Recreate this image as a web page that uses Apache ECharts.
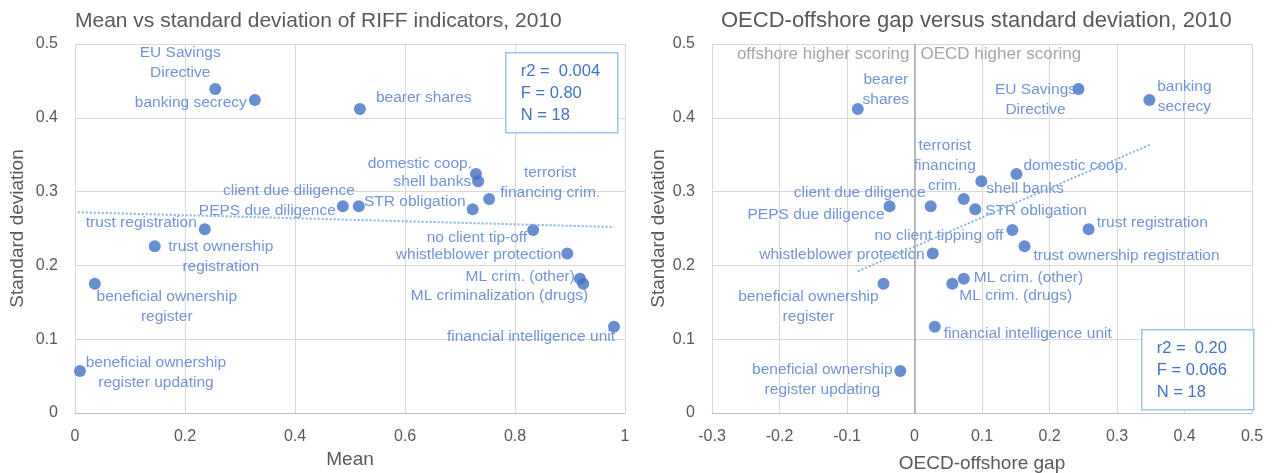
<!DOCTYPE html>
<html>
<head>
<meta charset="utf-8">
<script src="https://cdn.jsdelivr.net/npm/echarts@6/dist/echarts.min.js"></script>
<style>
  html, body { margin: 0; padding: 0; background: #fff; }
  #chart { width: 1279px; height: 473px; }
</style>
</head>
<body>
<div id="chart"></div>
<script>
// indicator values (same order everywhere)
var indicators = ['EU Savings Directive', 'banking secrecy', 'bearer shares', 'domestic coop.', 'shell banks',
  'terrorist financing crim.', 'STR obligation', 'client due diligence', 'PEPS due diligence', 'trust registration',
  'no client tip-off', 'trust ownership registration', 'whistleblower protection', 'ML crim. (other)',
  'ML criminalization (drugs)', 'beneficial ownership register', 'financial intelligence unit',
  'beneficial ownership register updating'];
var meanValues = [0.255, 0.327, 0.518, 0.729, 0.733, 0.753, 0.723, 0.516, 0.487, 0.236, 0.833, 0.145, 0.895, 0.918, 0.924, 0.036, 0.980, 0.009];
var sdValues = [0.439, 0.424, 0.412, 0.324, 0.314, 0.290, 0.276, 0.280, 0.280, 0.249, 0.248, 0.226, 0.216, 0.182, 0.175, 0.175, 0.117, 0.057];
var gapValues = [0.243, 0.348, -0.084, 0.151, 0.099, 0.073, 0.090, 0.024, -0.037, 0.258, 0.145, 0.163, 0.027, 0.073, 0.056, -0.046, 0.030, -0.021];

var leftLabels = ['EU Savings\nDirective', 'banking secrecy', 'bearer shares', 'domestic coop.', 'shell banks',
  'terrorist\nfinancing crim.', 'STR obligation', 'client due diligence', 'PEPS due diligence', 'trust registration',
  'no client tip-off', 'trust ownership\nregistration', 'whistleblower protection', 'ML crim. (other)',
  'ML criminalization (drugs)', 'beneficial ownership\nregister', 'financial intelligence unit',
  'beneficial ownership\nregister updating'];
var rightLabels = ['EU Savings\nDirective', 'banking\nsecrecy', 'bearer\nshares', 'domestic coop.', 'shell banks',
  'terrorist\nfinancing\ncrim.', 'STR obligation', 'client due diligence', 'PEPS due diligence', 'trust registration',
  'no client tipping off', 'trust ownership registration', 'whistleblower protection', 'ML crim. (other)',
  'ML crim. (drugs)', 'beneficial ownership\nregister', 'financial intelligence unit',
  'beneficial ownership\nregister updating'];

// dotted trend lines, end points
var trendLeft = [[0.005, 0.272], [0.980, 0.252]];
var trendRight = [[-0.084, 0.192], [0.350, 0.364]];

var statsLeft = ['r2 =  0.004', 'F = 0.80', 'N = 18'];
var statsRight = ['r2 =  0.20', 'F = 0.066', 'N = 18'];

// label placement: [dx, dy, align] from point centre
var leftPlace = [
  [-35, -26, 'center'], [-8, 3, 'right'], [16, -11, 'left'], [-4, -10, 'right'], [-7, 0, 'right'],
  [61, -16, 'center'], [-7, -8, 'right'], [-4, -16, 'right'], [-7, 4, 'right'], [-8, -7, 'right'],
  [-6, 8, 'right'], [66, 11, 'center'], [-6, 1, 'right'], [-5, -2, 'right'], [5, 12, 'right'],
  [72, 23, 'center'], [1, 10, 'right'], [76, 2, 'center']
];
var rightPlace = [
  [-43, 11, 'center'], [35, -3, 'center'], [28, -19, 'center'], [7, -8, 'left'], [5, 7, 'left'],
  [-19, -33, 'center'], [10, 1, 'left'], [-5, -14, 'right'], [-5, 8, 'right'], [8, -7, 'left'],
  [-9, 6, 'right'], [9, 10, 'left'], [-8, 1, 'right'], [10, -1, 'left'], [7, 12, 'left'],
  [-75, 23, 'center'], [9, 7, 'left'], [-78, 9, 'center']
];

var FONT = 'Liberation Sans';
var BLUE = '#4472c4';
var LABEL_BLUE = '#4f78cc';
var GREY = '#595959';
var SYM = 12;

function buildPoints(xs, labels, place){
  var pts = [];
  for (var i = 0; i < indicators.length; i++){
    var p = place[i];
    pts.push({
      name: indicators[i],
      value: [xs[i], sdValues[i]],
      label: {
        show: true,
        formatter: labels[i],
        position: [SYM / 2 + p[0], SYM / 2 + p[1]],
        align: p[2],
        verticalAlign: 'middle'
      }
    });
  }
  return pts;
}

function fmt(v){
  return String(Math.round(v * 10) / 10);
}

function axisX(idx, min, max, name, gap){
  return {
    gridIndex: idx, type: 'value', min: min, max: max, interval: idx ? 0.1 : 0.2,
    name: name, nameLocation: 'middle', nameGap: gap,
    nameTextStyle: { color: GREY, fontSize: 19, fontFamily: FONT },
    axisLine: { onZero: false, lineStyle: { color: '#bfbfbf' } },
    axisTick: { show: false },
    axisLabel: { color: GREY, fontSize: 16, fontFamily: FONT, margin: 16, formatter: fmt },
    splitLine: { lineStyle: { color: '#d9d9d9' } }
  };
}

function axisY(idx, gap){
  return {
    gridIndex: idx, type: 'value', min: 0, max: 0.5, interval: 0.1,
    name: 'Standard deviation', nameLocation: 'middle', nameGap: gap,
    nameTextStyle: { color: GREY, fontSize: 19, fontFamily: FONT },
    axisLine: { show: false },
    axisTick: { show: false },
    axisLabel: { color: GREY, fontSize: 16, fontFamily: FONT, margin: 17, formatter: fmt },
    splitLine: { lineStyle: { color: '#d9d9d9' } }
  };
}

function statBox(x, y, lines){
  return {
    type: 'group', left: x, top: y, z: 100,
    children: [
      { type: 'rect', z: 100, shape: { x: 0, y: 0, width: 112, height: 80 },
        style: { fill: '#fff', stroke: '#9dc3e6', lineWidth: 1.5 } },
      { type: 'text', z: 101, left: 15, top: 8,
        style: { text: lines.join('\n'), fill: BLUE, font: '16.5px "' + FONT + '"', lineHeight: 22 } }
    ]
  };
}

var chart = echarts.init(document.getElementById('chart'));
var option = {
  animation: false,
  textStyle: { fontFamily: FONT },
  title: [
    { text: 'Mean vs standard deviation of RIFF indicators, 2010', left: 70, top: 6,
      textStyle: { color: GREY, fontSize: 21, fontWeight: 'normal', fontFamily: FONT } },
    { text: 'OECD-offshore gap versus standard deviation, 2010', left: 716, top: 5,
      textStyle: { color: GREY, fontSize: 22, fontWeight: 'normal', fontFamily: FONT } }
  ],
  grid: [
    { left: 75, right: 654, top: 44, bottom: 60, outerBoundsMode: 'none' },
    { left: 712, right: 27, top: 44, bottom: 60, outerBoundsMode: 'none' }
  ],
  xAxis: [axisX(0, 0, 1, 'Mean', 37), axisX(1, -0.3, 0.5, 'OECD-offshore gap', 41)],
  yAxis: [axisY(0, 48), axisY(1, 44)],
  graphic: [statBox(505, 52, statsLeft), statBox(1141, 329, statsRight)],
  series: [
    {
      type: 'line', xAxisIndex: 0, yAxisIndex: 0, data: trendLeft, symbol: 'none', silent: true,
      lineStyle: { color: '#86b4e0', width: 2, type: 'dotted' }
    },
    {
      type: 'line', xAxisIndex: 1, yAxisIndex: 1, data: trendRight, symbol: 'none', silent: true,
      lineStyle: { color: '#86b4e0', width: 2, type: 'dotted' },
      markLine: {
        silent: true, symbol: 'none', label: { show: false },
        lineStyle: { color: '#a6a6a6', width: 1.5, type: 'solid' },
        data: [{ xAxis: 0 }]
      },
      markPoint: {
        symbol: 'circle', symbolSize: 0,
        label: { color: '#a6a6a6', fontSize: 17, fontFamily: FONT },
        data: [
          { coord: [0, 0.486], label: { position: 'left', distance: 5, formatter: 'offshore higher scoring' } },
          { coord: [0, 0.486], label: { position: 'right', distance: 6, formatter: 'OECD higher scoring' } }
        ]
      }
    },
    {
      type: 'scatter', xAxisIndex: 0, yAxisIndex: 0, symbolSize: SYM,
      itemStyle: { color: BLUE },
      label: { color: LABEL_BLUE, fontSize: 15.5, fontFamily: FONT, lineHeight: 20 },
      data: buildPoints(meanValues, leftLabels, leftPlace)
    },
    {
      type: 'scatter', xAxisIndex: 1, yAxisIndex: 1, symbolSize: SYM,
      itemStyle: { color: BLUE },
      label: { color: LABEL_BLUE, fontSize: 15.5, fontFamily: FONT, lineHeight: 20 },
      data: buildPoints(gapValues, rightLabels, rightPlace)
    }
  ]
};
chart.setOption(option);
</script>
</body>
</html>
